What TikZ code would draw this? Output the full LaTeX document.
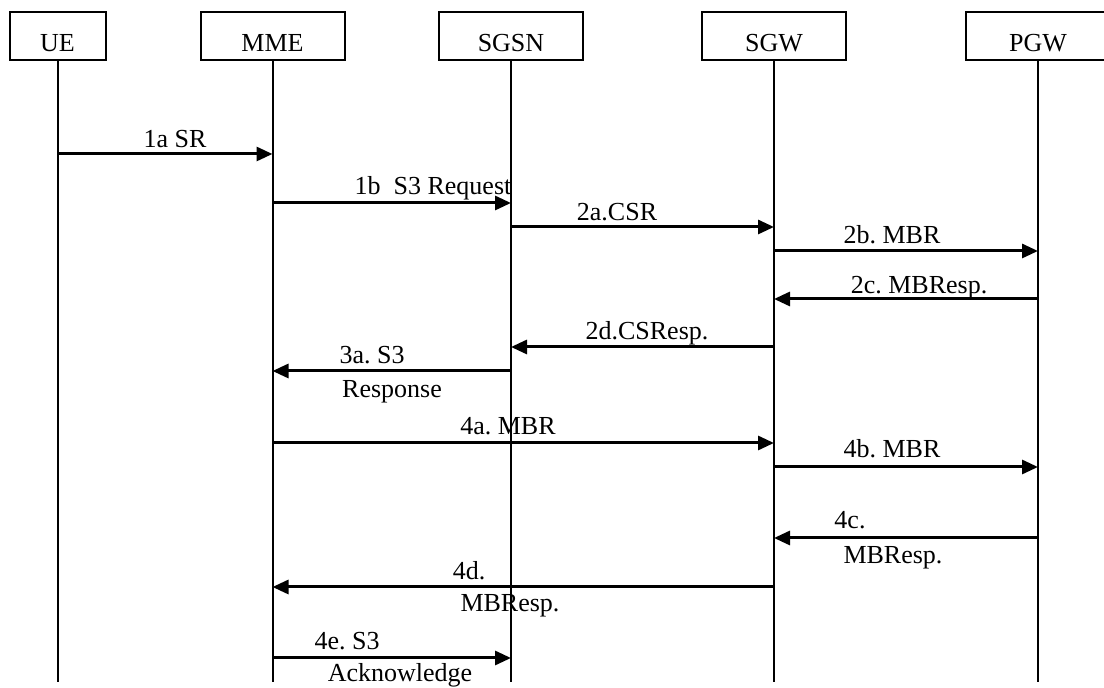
\documentclass[tikz,border=0pt]{standalone}
\usepackage{fontspec}
\setmainfont{Liberation Serif}
\usetikzlibrary{arrows.meta}
\frenchspacing
\begin{document}
\begin{tikzpicture}[x=0.5pt,y=-0.5pt,
  font=\fontsize{13}{15.6}\selectfont\frenchspacing,
  entity/.style={draw,line width=1pt,minimum width=72pt,minimum height=24pt,inner sep=0pt,text height=16pt,text depth=0pt},
  life/.style={line width=1pt},
  msg/.style={line width=1.5pt,-{Triangle[length=8pt,width=7pt]}},
  lbl/.style={anchor=base,inner sep=0pt}]
\useasboundingbox (0,0) rectangle (1104,688);
\fill[white] (0,0) rectangle (1104,688);
\clip (0,0) rectangle (1104,688);
% entities
\node[entity,minimum width=48pt] (ue) at (57.5,36) {UE};
\node[entity] (mme) at (272.5,36) {MME};
\node[entity] (sgsn) at (511,36) {SGSN};
\node[entity] (sgw) at (774,36) {SGW};
\node[entity] (pgw) at (1038,36) {PGW};
% lifelines
\foreach \n in {ue,mme,sgsn,sgw,pgw}
  \draw[life] (\n.south) -- (\n.south |- 0,682);
% messages
\draw[msg] (ue.south |- 0,154) -- (mme.south |- 0,154);
\draw[msg] (mme.south |- 0,203) -- (sgsn.south |- 0,203);
\draw[msg] (sgsn.south |- 0,227) -- (sgw.south |- 0,227);
\draw[msg] (sgw.south |- 0,251) -- (pgw.south |- 0,251);
\draw[msg] (pgw.south |- 0,299) -- (sgw.south |- 0,299);
\draw[msg] (sgw.south |- 0,347) -- (sgsn.south |- 0,347);
\draw[msg] (sgsn.south |- 0,371) -- (mme.south |- 0,371);
\draw[msg] (mme.south |- 0,443) -- (sgw.south |- 0,443);
\draw[msg] (sgw.south |- 0,467) -- (pgw.south |- 0,467);
\draw[msg] (pgw.south |- 0,538) -- (sgw.south |- 0,538);
\draw[msg] (sgw.south |- 0,587) -- (mme.south |- 0,587);
\draw[msg] (mme.south |- 0,658) -- (sgsn.south |- 0,658);
% labels
\node[lbl] (l1a) at (175,148) {1a SR};
\node[lbl] (l1b) at (433,195) {1b\ \ S3 Request};
\node[lbl] (l2a) at (617,221) {2a.CSR};
\node[lbl] (l2b) at (892,244) {2b. MBR};
\node[lbl] (l2c) at (919,294) {2c. MBResp.};
\node[lbl] (l2d) at (647,340) {2d.CSResp.};
\node[lbl] (l3a) at (372,364) {3a. S3};
\node[lbl] (l3b) at (392,398) {Response};
\node[lbl] (l4a) at (508,435) {4a. MBR};
\node[lbl] (l4b) at (892,458) {4b. MBR};
\node[lbl] (l4c) at (850,529) {4c.};
\node[lbl] (l4c2) at (893,564) {MBResp.};
\node[lbl] (l4d) at (469,580) {4d.};
\node[lbl] (l4d2) at (510,612) {MBResp.};
\node[lbl] (l4e) at (347,650) {4e. S3};
\node[lbl] (l4e2) at (400,682) {Acknowledge};
\end{tikzpicture}
\end{document}
